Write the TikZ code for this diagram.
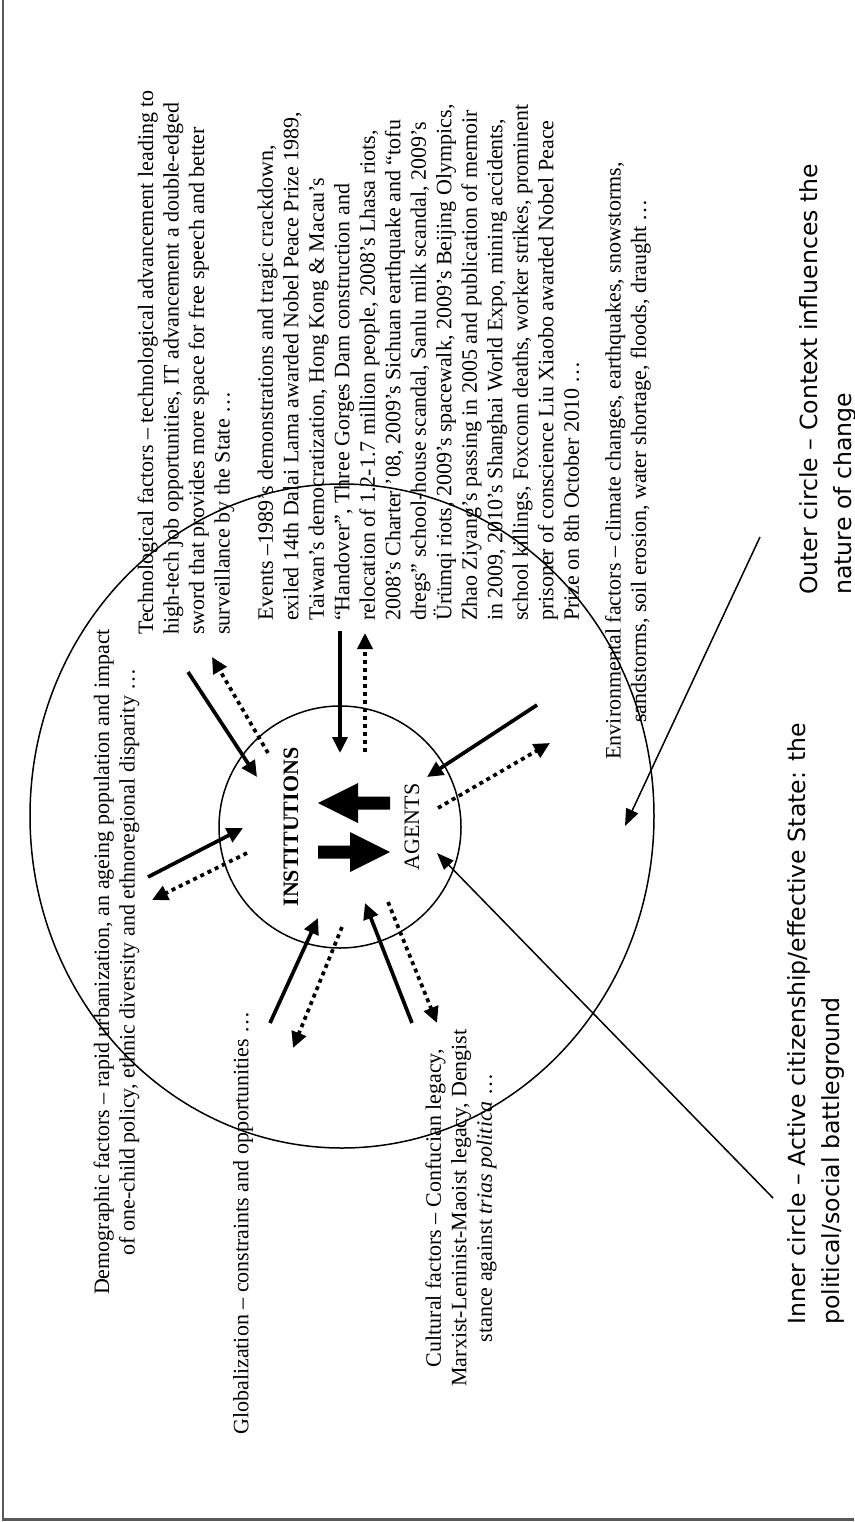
\documentclass[tikz,border=0pt]{standalone}
\usepackage{fontspec}
\setmainfont{Liberation Serif}
\newfontfamily\verd{DejaVu Sans}
\usetikzlibrary{arrows.meta}

\begin{document}
\begin{tikzpicture}[x=1pt, y=-1pt,
    lbl/.style={rotate=90, inner sep=0pt, font=\fontsize{22}{25.5}\selectfont},
    note/.style={rotate=90, inner sep=0pt, align=left, anchor=west,
                 font=\verd\fontsize{23.6}{34}\selectfont},
    ring/.style={line width=1.5pt},
    solidarr/.style={line width=3.7pt, -{Triangle[length=16pt, width=15pt]}},
    dotarr/.style={solidarr, dash pattern=on 4pt off 4pt},
    pointer/.style={line width=1.5pt, -{Triangle[length=17pt, width=13pt]}}
]
  \useasboundingbox (0,0) rectangle (854,1522);
  \fill[white] (0,0) rectangle (854,1522);
  \draw[black!65, line width=2.5pt] (3,0) -- (3,1519.5) -- (854,1519.5);

  % the two circles
  \draw[ring] (342,816) ellipse [x radius=312, y radius=332];
  \node[ring, draw, circle, minimum size=242pt, inner sep=0pt] (inner) at (340,827) {};

  % factor texts
  \node[lbl, anchor=west, align=left] (tech) at (186,635)
    {Technological factors – technological advancement leading to\\
     high-tech job opportunities, IT advancement a double-edged\\
     sword that provides more space for free speech and better\\
     surveillance by the State …};
  \node[lbl, anchor=west, align=left] (events) at (418.5,621)
    {Events –1989’s demonstrations and tragic crackdown,\\
     exiled 14th Dalai Lama awarded Nobel Peace Prize 1989,\\
     Taiwan’s democratization, Hong Kong \& Macau’s\\
     “Handover”, Three Gorges Dam construction and\\
     relocation of 1.2-1.7 million people, 2008’s Lhasa riots,\\
     2008’s Charter ’08, 2009’s Sichuan earthquake and “tofu\\
     dregs” school-house scandal, Sanlu milk scandal, 2009’s\\
     Ürümqi riots, 2009’s spacewalk, 2009’s Beijing Olympics,\\
     Zhao Ziyang’s passing in 2005 and publication of memoir\\
     in 2009, 2010’s Shanghai World Expo, mining accidents,\\
     school killings, Foxconn deaths, worker strikes, prominent\\
     prisoner of conscience Liu Xiaobo awarded Nobel Peace\\
     Prize on 8th October 2010 …};
  \node[lbl, align=center] (env) at (628,461)
    {Environmental factors – climate changes, earthquakes, snowstorms,\\
     sandstorms, soil erosion, water shortage, floods, draught …};
  \node[lbl, align=center] (demo) at (116.5,962)
    {Demographic factors – rapid urbanization, an ageing population and impact\\
     of one-child policy, ethnic diversity and ethnoregional disparity …};
  \node[lbl] (glob) at (243,1223) {Globalization – constraints and opportunities …};
  \node[lbl, align=center] (cult) at (461,1208)
    {Cultural factors – Confucian legacy,\\
     Marxist-Leninist-Maoist legacy, Dengist\\
     stance against \textit{trias politica} …};

  % inside the inner circle
  \node[lbl, font=\fontsize{22}{25.5}\selectfont\bfseries] (inst) at (291,827) {INSTITUTIONS};
  \node[lbl] (agents) at (412,827) {AGENTS};
  \fill (318,803) -- (358,783) -- (358,796.5) -- (390,796.5)
        -- (390,809.5) -- (358,809.5) -- (358,823) -- cycle;
  \fill (390,852) -- (350,832) -- (350,845.5) -- (318,845.5)
        -- (318,858.5) -- (350,858.5) -- (350,872) -- cycle;

  % arrow ends
  \coordinate (tecS) at (188,672);   \coordinate (tecT) at (257,777);
  \coordinate (tecD) at (268,753);   \coordinate (tecE) at (212,657);
  \coordinate (evtS) at (340,631);   \coordinate (evtT) at (340,753);
  \coordinate (evtD) at (365,752);   \coordinate (evtE) at (365,633);
  \coordinate (envS) at (537,705);   \coordinate (envT) at (427,777);
  \coordinate (envD) at (438,808);   \coordinate (envE) at (550,743);
  \coordinate (demS) at (148,877);   \coordinate (demT) at (243,828);
  \coordinate (demD) at (247,853);   \coordinate (demE) at (152,900);
  \coordinate (glbS) at (270,1023);  \coordinate (glbT) at (318,918);
  \coordinate (glbD) at (342,927);   \coordinate (glbE) at (293,1048);
  \coordinate (culS) at (412,1023);  \coordinate (culT) at (365,903);
  \coordinate (culD) at (388,902);   \coordinate (culE) at (437,1023);

  \draw[solidarr] (tecS) -- (tecT);  \draw[dotarr] (tecD) -- (tecE);
  \draw[solidarr] (evtS) -- (evtT);  \draw[dotarr] (evtD) -- (evtE);
  \draw[solidarr] (envS) -- (envT);  \draw[dotarr] (envD) -- (envE);
  \draw[solidarr] (demS) -- (demT);  \draw[dotarr] (demD) -- (demE);
  \draw[solidarr] (glbS) -- (glbT);  \draw[dotarr] (glbD) -- (glbE);
  \draw[solidarr] (culS) -- (culT);  \draw[dotarr] (culD) -- (culE);

  % notes and their pointers
  \node[note] (innote) at (816,1325)
    {Inner circle – Active citizenship/effective State: the\\
     political/social battleground};
  \node[note] (outnote) at (828,595)
    {Outer circle – Context influences the\\
     nature of change};
  \coordinate (inP) at (773,1198);   \coordinate (inQ) at (437,853);
  \coordinate (outP) at (760,537);   \coordinate (outQ) at (625,826);
  \draw[pointer] (inP) -- (inQ);
  \draw[pointer] (outP) -- (outQ);
\end{tikzpicture}
\end{document}
